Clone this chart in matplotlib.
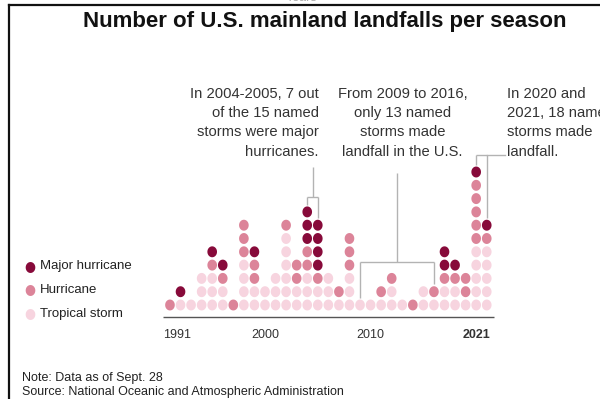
import numpy as np
import matplotlib.pyplot as plt
from matplotlib.path import Path
from matplotlib.lines import Line2D

plt.rcParams['font.family'] = ['Liberation Sans', 'DejaVu Sans']

# landfalls per season, by storm strength
years = list(range(1991, 2022))
tropical = [0, 1, 1, 3, 3, 2, 0, 4, 2, 2, 3, 6, 2, 3, 2, 3, 1, 3, 1, 1,
            1, 2, 1, 0, 2, 1, 2, 2, 1, 5, 5]
hurricane = [1, 0, 0, 0, 1, 1, 1, 3, 2, 0, 0, 1, 2, 2, 1, 0, 1, 3, 0, 0,
             1, 1, 0, 1, 0, 1, 1, 1, 2, 5, 1]
major = [0, 1, 0, 0, 1, 1, 0, 0, 1, 0, 0, 0, 0, 3, 4, 0, 0, 0, 0, 0,
         0, 0, 0, 0, 0, 0, 2, 1, 0, 1, 1]

labels = ['Major hurricane', 'Hurricane', 'Tropical storm']
tick_years = [1991, 2000, 2010, 2021]

c_major = '#870a3a'
c_hurr = '#dc8499'
c_trop = '#f7d4df'
grey = '#b3b3b3'

W, H = 600, 399
fig = plt.figure(figsize=(W / 100, H / 100), dpi=100)


def fx(x):
    return x / W


def fy(y):
    return 1 - y / H


ax = fig.add_axes([fx(159.4), fy(318.3), 337.9 / W, 159.6 / H])
ax.set_xlim(1990, 2022)
ax.set_ylim(-1, 11)
ax.axis('off')

# slightly tall dots
t = np.linspace(0, 2 * np.pi, 64)
dot = Path(np.column_stack([0.88 * np.cos(t), np.sin(t)]))
S = 62

xs, ys, cs = [], [], []
for yr, nt, nh, nm in zip(years, tropical, hurricane, major):
    col = [c_trop] * nt + [c_hurr] * nh + [c_major] * nm
    for k, c in enumerate(col):
        xs.append(yr)
        ys.append(k)
        cs.append(c)
ax.scatter(xs, ys, s=S, c=cs, marker=dot, linewidths=0, clip_on=False)

# baseline and year labels
ax.plot([1990.3, 2021.7], [-0.9, -0.9], color='#555555', lw=1.0,
        clip_on=False, solid_capstyle='butt')
for yr in tick_years:
    dx = 0
    if yr == 1991:
        dx = 0.65
    if yr == 2021:
        dx = -0.95
    ax.text(yr + dx, -2.25, str(yr), ha='center', va='center', fontsize=9,
            color='#333333', fontweight='bold' if yr == 2021 else 'normal')


# annotation brackets
def bracket(x0, x1, ytop, y0end, y1end, xstem=None, stem_top=None):
    kw = dict(color=grey, lw=1.0, clip_on=False, solid_capstyle='butt')
    ax.plot([x0, x1], [ytop, ytop], **kw)
    ax.plot([x0, x0], [ytop, y0end], **kw)
    ax.plot([x1, x1], [ytop, y1end], **kw)
    if xstem is not None:
        ax.plot([xstem, xstem], [ytop, stem_top], **kw)


top04 = tropical[13] + hurricane[13] + major[13] - 1
top05 = tropical[14] + hurricane[14] + major[14] - 1
bracket(2004, 2005, 8.1, top04 + 0.55, top05 + 0.55, 2004.5, 10.4)
bracket(2009, 2016, 3.25, 0.55, 1.55, 2012.5, 9.9)
top20 = tropical[29] + hurricane[29] + major[29] - 1
top21 = tropical[30] + hurricane[30] + major[30] - 1
bracket(2020, 2021, 11.3, top20 + 0.55, top21 + 0.55)
ax.plot([2021, 2022.75], [11.3, 11.3], color=grey, lw=1.0, clip_on=False)

akw = dict(fontsize=10.6, color='#333333', va='top', linespacing=1.47)
fig.text(fx(318.5), fy(87), 'In 2004-2005, 7 out\nof the 15 named\n'
         'storms were major\nhurricanes.', ha='right', **akw)
fig.text(fx(402.5), fy(87), 'From 2009 to 2016,\nonly 13 named\n'
         'storms made\nlandfall in the U.S.', ha='center',
         multialignment='center', **akw)
fig.text(fx(507), fy(87), 'In 2020 and\n2021, 18 named\n'
         'storms made\nlandfall.', ha='left', **akw)

# legend
leg_y = [266.5, 290, 313.5]
for lab, c, y in zip(labels, [c_major, c_hurr, c_trop], leg_y):
    ax.scatter([fx(29.5)], [fy(y)], s=S, c=c, marker=dot, linewidths=0,
               transform=fig.transFigure, clip_on=False)
    fig.text(fx(40), fy(y), lab, ha='left', va='center', fontsize=9.5,
             color='#222222')

# title and notes
fig.text(fx(325), fy(27.5), 'Number of U.S. mainland landfalls per season',
         ha='center', va='baseline', fontsize=16, fontweight='bold',
         color='#111111')
fig.text(fx(22), fy(381.5), 'Note: Data as of Sept. 28', ha='left',
         va='baseline', fontsize=9, color='#222222')
fig.text(fx(22), fy(394.5), 'Source: National Oceanic and Atmospheric Administration',
         ha='left', va='baseline', fontsize=9, color='#222222')
fig.text(fx(302), fy(1.2), 'Years', ha='center', va='baseline', fontsize=9,
         color='#aaaaaa')

# frame edges
fig.add_artist(Line2D([fx(8.5), fx(8.5)], [fy(4.5), 0], color='#111111',
                      lw=1.6, transform=fig.transFigure))
fig.add_artist(Line2D([fx(8.5), 1], [fy(4.5), fy(4.5)], color='#111111',
                      lw=1.6, transform=fig.transFigure))

fig.savefig('out.png', dpi=100)
